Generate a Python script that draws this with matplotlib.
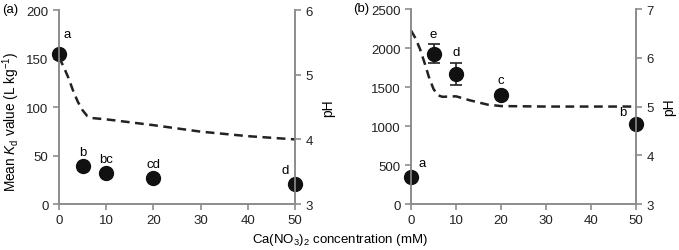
import matplotlib.pyplot as plt

plt.rcParams["font.family"] = ["Liberation Sans", "DejaVu Sans"]
plt.rcParams["font.size"] = 9.5
plt.rcParams["mathtext.fontset"] = "custom"
plt.rcParams["mathtext.rm"] = "Liberation Sans"
plt.rcParams["mathtext.it"] = "Liberation Sans:italic"

# Panel (a)
conc_a = [0, 5, 10, 20, 50]
kd_a = [155, 39, 32, 27, 21]
letters_a = ["a", "b", "bc", "cd", "d"]
ph_x_a = [0, 1, 2, 3, 4, 5, 6, 7, 10, 20, 30, 40, 50]
ph_a = [5.27, 5.12, 4.95, 4.75, 4.58, 4.45, 4.36, 4.33, 4.31, 4.22, 4.12, 4.05, 4.0]

# Panel (b)
conc_b = [0, 5, 10, 20, 50]
kd_b = [350, 1930, 1670, 1400, 1030]
err_b = [0, 125, 140, 40, 0]
letters_b = ["a", "e", "d", "c", "b"]
ph_x_b = [0, 1, 2, 3, 4, 5, 6, 7, 10, 13, 17, 20, 30, 40, 50]
ph_b = [6.56, 6.4, 6.18, 5.9, 5.6, 5.36, 5.23, 5.2, 5.21, 5.13, 5.04, 5.01, 5.0, 5.0, 5.0]

grey = "#8c8c8c"

fig = plt.figure(figsize=(6.79, 2.51), dpi=100)
ax1 = fig.add_axes([0.0869, 0.183, 0.3476, 0.773])
ax2 = fig.add_axes([0.6053, 0.183, 0.3314, 0.777])


def style(ax):
    ax.spines["top"].set_visible(False)
    for s in ["left", "right", "bottom"]:
        ax.spines[s].set_color(grey)
        ax.spines[s].set_linewidth(1.2)
    ax.tick_params(color=grey, width=1.2, length=4, labelcolor="#222222")


def panel(ax, conc, kd, err, letters, offsets, phx, ph, ylim, yticks, phlim, phticks):
    ax.set_xlim(0, 50)
    ax.set_ylim(*ylim)
    ax.set_xticks([0, 10, 20, 30, 40, 50])
    ax.set_yticks(yticks)
    style(ax)
    if err is not None:
        ax.errorbar(conc, kd, yerr=err, fmt="none", ecolor="#222222", elinewidth=1.2,
                    capsize=4, capthick=1.2, clip_on=False, zorder=3)
    ax.plot(conc, kd, "o", color="#111111", ms=10, clip_on=False, zorder=4)
    for x, y, t, off in zip(conc, kd, letters, offsets):
        ax.annotate(t, (x, y), xytext=off, textcoords="offset points",
                    ha="center", va="center", fontsize=9.5)
    axr = ax.twinx()
    axr.set_ylim(*phlim)
    axr.set_yticks(phticks)
    axr.set_xlim(0, 50)
    style(axr)
    axr.plot(phx, ph, color="#222222", lw=1.8, dashes=(3.5, 2.2))
    axr.set_ylabel("pH", rotation=90, labelpad=6, fontsize=10)
    return axr


panel(ax1, conc_a, kd_a, None, letters_a,
      [(6, 14.5), (0, 10), (0, 10), (0, 10), (-7, 10)],
      ph_x_a, ph_a, (0, 200), [0, 50, 100, 150, 200], (3, 6), [3, 4, 5, 6])
panel(ax2, conc_b, kd_b, err_b, letters_b,
      [(8, 10), (0, 14), (0, 16), (0, 11), (-9.5, 8.5)],
      ph_x_b, ph_b, (0, 2500), [0, 500, 1000, 1500, 2000, 2500], (3, 7), [3, 4, 5, 6, 7])

fig.text(0.016, 0.514, "Mean $K_{\\mathrm{d}}$ value (L kg$^{-1}$)", fontsize=9.8,
         rotation=90, ha="center", va="center")
fig.text(0.003, 0.962, "(a)", fontsize=9.5, va="center")
fig.text(0.52, 0.965, "(b)", fontsize=9.5, va="center")
fig.text(0.5, 0.045, "Ca(NO$_3$)$_2$ concentration (mM)", ha="center", va="center",
         fontsize=9.5)

fig.savefig("out.png", dpi=100)
